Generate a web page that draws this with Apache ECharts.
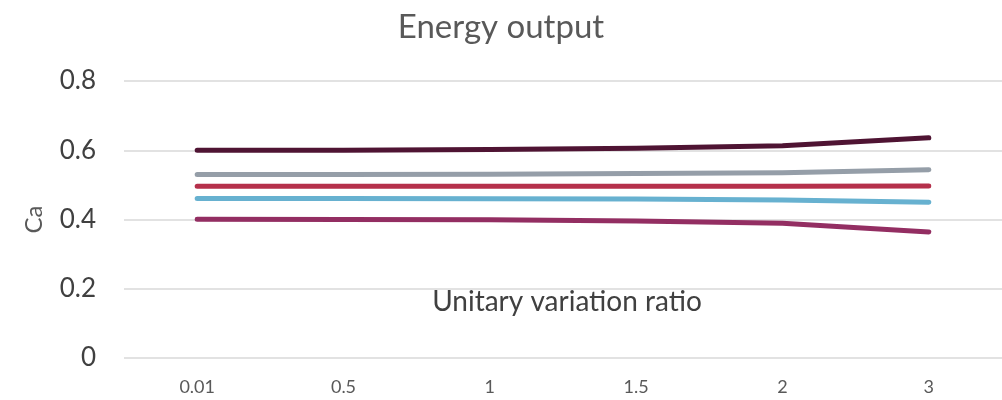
<!DOCTYPE html>
<html>
<head>
<meta charset="utf-8">
<script src="https://cdn.jsdelivr.net/npm/echarts@6/dist/echarts.min.js"></script>
<style>
  html, body { margin: 0; padding: 0; background: #fff; }
  #chart { width: 1002px; height: 400px; }
</style>
</head>
<body>
<div id="chart"></div>
<script>
// x categories (unitary variation ratio)
const ratios = ['0.01', '0.5', '1', '1.5', '2', '3'];
// series values
const darkLine = [0.600, 0.600, 0.602, 0.606, 0.613, 0.636];
const greyLine = [0.530, 0.530, 0.531, 0.533, 0.535, 0.544];
const redLine = [0.496, 0.496, 0.496, 0.496, 0.496, 0.497];
const blueLine = [0.461, 0.461, 0.460, 0.459, 0.456, 0.450];
const plumLine = [0.401, 0.400, 0.399, 0.396, 0.389, 0.364];
const yTicks = [0, 0.2, 0.4, 0.6, 0.8];

const font = 'Lato, "Open Sans", sans-serif';

function line(name, data, color) {
  return {
    name: name,
    type: 'line',
    data: data,
    symbol: 'none',
    smooth: false,
    lineStyle: { width: 5, color: color, cap: 'round', join: 'round' },
    itemStyle: { color: color }
  };
}

const chart = echarts.init(document.getElementById('chart'));
chart.setOption({
  animation: false,
  title: {
    text: 'Energy output',
    left: 'center',
    top: 6,
    textStyle: { fontFamily: font, fontSize: 33, fontWeight: 'normal', color: '#595959' }
  },
  grid: { left: 124, right: 0, top: 81, bottom: 42 },
  xAxis: {
    type: 'category',
    data: ratios,
    boundaryGap: true,
    name: 'Unitary variation ratio',
    nameLocation: 'middle',
    nameGap: -70,
    nameTextStyle: { fontFamily: font, fontSize: 28, color: '#404040', padding: [0, 0, 0, 8] },
    axisLine: { show: false },
    axisTick: { show: false },
    axisLabel: { fontFamily: font, fontSize: 18, color: '#595959', margin: 20 }
  },
  yAxis: {
    type: 'value',
    min: yTicks[0],
    max: yTicks[yTicks.length - 1],
    interval: 0.2,
    name: 'Ca',
    nameLocation: 'middle',
    nameGap: 78,
    nameRotate: 90,
    nameTextStyle: { fontFamily: font, fontSize: 24, color: '#595959' },
    axisLine: { show: false },
    axisTick: { show: false },
    axisLabel: {
      fontFamily: font, fontSize: 26, color: '#404040', margin: 28,
      formatter: v => String(Math.round(v * 10) / 10)
    },
    splitLine: { lineStyle: { color: '#d9d9d9', width: 1.5 } }
  },
  series: [
    line('s1', darkLine, '#4f1433'),
    line('s2', greyLine, '#959ea8'),
    line('s3', redLine, '#b5304b'),
    line('s4', blueLine, '#67b1d0'),
    line('s5', plumLine, '#932e62')
  ]
});
</script>
</body>
</html>
